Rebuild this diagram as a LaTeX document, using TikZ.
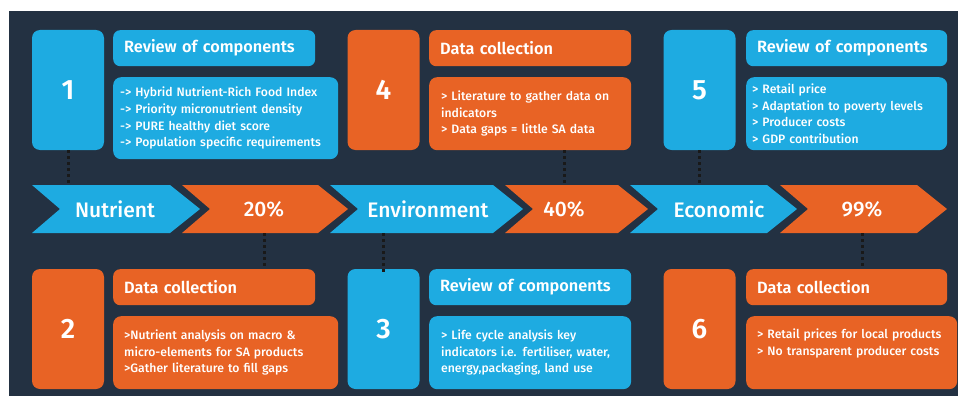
\documentclass[tikz,border=0pt]{standalone}
\usepackage{fontspec}
\setmainfont{Fira Sans}[UprightFont=* Medium, BoldFont=* SemiBold]
\usepackage{tikz}
\usetikzlibrary{positioning}
\definecolor{navy}{HTML}{233142}
\definecolor{skyblue}{HTML}{1EABE1}
\definecolor{rust}{HTML}{E86325}
\tikzset{
  numbox/.style={rounded corners=8pt, minimum width=72pt, minimum height=120pt, inner sep=0pt,
    text=white, font=\bfseries\fontsize{28}{28}\selectfont},
  headbox/.style={anchor=north west, rounded corners=7pt, minimum height=36pt, text width=180pt,
    inner xsep=11pt, inner ysep=0pt, align=left, text=white, font=\bfseries\fontsize{16.3}{19}\selectfont},
  bodybox/.style={anchor=north west, rounded corners=8pt, minimum height=73pt, inner ysep=0pt,
    align=left, text=white, font=\fontsize{12.2}{16.7}\selectfont},
  chevlabel/.style={minimum height=48pt, inner sep=0pt, text=white, font=\fontsize{21}{21}\selectfont},
  dotlink/.style={draw=black!90, line width=3pt, dash pattern=on 3pt off 3pt}
}
\begin{document}
\begin{tikzpicture}[x=1pt, y=-1pt]
\useasboundingbox (0,0) rectangle (958,396);
\fill[white] (0,0) rectangle (958,396);
\fill[navy] (9,11) rectangle (958,396);

\foreach \a/\b/\c in {32/200/skyblue, 182/348/rust, 330/523/skyblue, 505/648/rust, 630/797/skyblue, 780/947/rust}
  \fill[\c] (\a,185) -- (\b-30,185) -- (\b,209) -- (\b-30,233) -- (\a,233) -- (\a+28,209) -- cycle;

\node[chevlabel] (nut) at (115,209) {Nutrient};
\node[chevlabel] (p20) at (264,209) {20\%};
\node[chevlabel] (env) at (428,209) {Environment};
\node[chevlabel] (p40) at (564,209) {40\%};
\node[chevlabel] (eco) at (719,209) {Economic};
\node[chevlabel] (p99) at (862,209) {99\%};

\node[numbox, fill=skyblue] (b1) at (68,90) {1};
\node[headbox, fill=skyblue] (t1) at (113,30) {Review of components};
\node[bodybox, fill=skyblue, minimum height=82pt, text width=211pt, inner xsep=7pt] (d1) at (113,77)
  {-> Hybrid Nutrient-Rich Food Index\\-> Priority micronutrient density\\-> PURE healthy diet score\\-> Population specific requirements};

\node[numbox, fill=rust] (b4) at (383.5,90) {4};
\node[headbox, fill=rust] (t4) at (429,30) {Data collection};
\node[bodybox, fill=rust, text width=178pt, inner xsep=12pt] (d4) at (429,77)
  {> Literature to gather data on\\indicators\\> Data gaps = little SA data};

\node[numbox, fill=skyblue] (b5) at (699.5,90) {5};
\node[headbox, fill=skyblue, minimum width=201pt, text width=179pt] (t5) at (746,30) {Review of components};
\node[bodybox, fill=skyblue, text width=189pt, inner xsep=6pt] (d5) at (746,77)
  {> Retail price\\> Adaptation to poverty levels\\> Producer costs\\> GDP contribution};

\node[numbox, fill=rust] (b2) at (68,329) {2};
\node[headbox, fill=rust] (t2) at (113,269) {Data collection};
\node[bodybox, fill=rust, text width=203pt, inner xsep=11pt] (d2) at (113,316)
  {>Nutrient analysis on macro \&\\micro-elements for SA products\\>Gather literature to fill gaps};

\node[numbox, fill=skyblue] (b3) at (383.5,329) {3};
\node[headbox, fill=skyblue] (t3) at (429,269) {Review of components};
\node[bodybox, fill=skyblue, text width=178pt, inner xsep=12pt] (d3) at (429,316)
  {> Life cycle analysis key\\indicators i.e. fertiliser, water,\\energy,packaging, land use};

\node[numbox, fill=rust] (b6) at (699.5,329) {6};
\node[headbox, fill=rust, minimum width=201pt, text width=179pt] (t6) at (746,269) {Data collection};
\node[bodybox, fill=rust, text width=189pt, inner xsep=11pt] (d6) at (746,316)
  {> Retail prices for local products\\> No transparent producer costs\\\strut};

\draw[dotlink] (b1.south) -- (b1.south |- nut.north);
\draw[dotlink] (p40.north |- d4.south) -- (p40.north);
\draw[dotlink] (b5.south) -- (b5.south |- eco.north);
\draw[dotlink] (p20.south) -- (p20.south |- t2.north);
\draw[dotlink] (b3.north |- env.south) -- ([yshift=-6pt]b3.north);
\draw[dotlink] (p99.south) -- (p99.south |- t6.north);
\end{tikzpicture}
\end{document}
